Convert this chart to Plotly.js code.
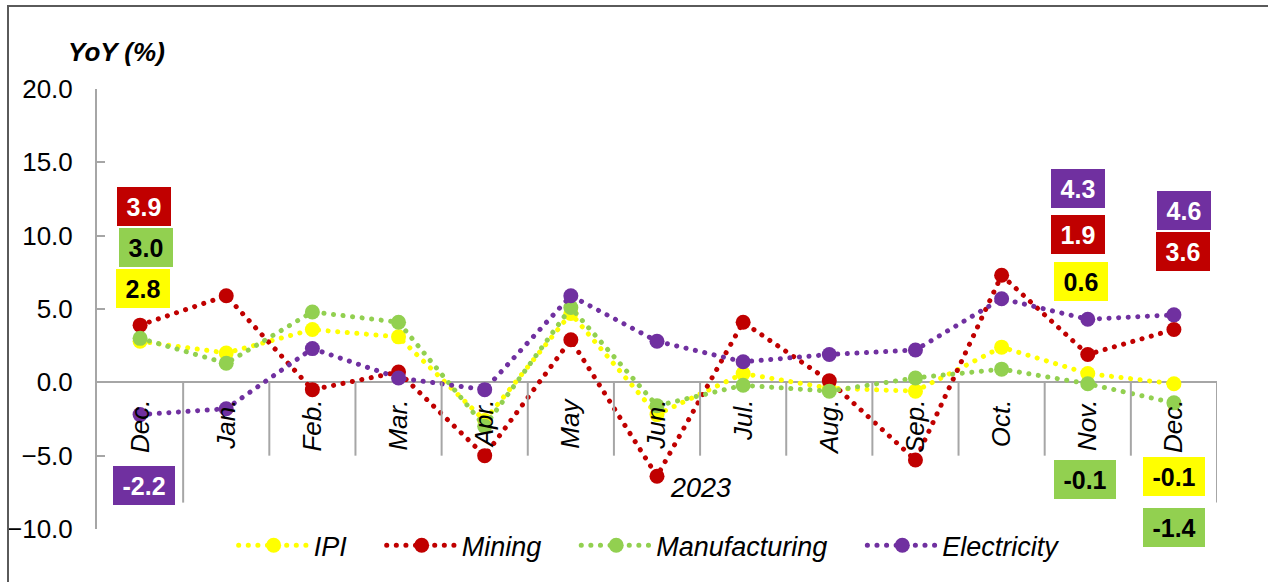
<!DOCTYPE html>
<html>
<head>
<meta charset="utf-8">
<script src="https://cdn.plot.ly/plotly-3.0.1.min.js"></script>
<style>
  html, body { margin: 0; padding: 0; background: #fff; }
  #chart { position: absolute; left: 0; top: 0; width: 1268px; height: 582px; }
  #frame { position: absolute; left: 7px; top: 5px; width: 1400px; height: 700px;
           border-left: 2px solid #5a5a5a; border-top: 2px solid #5a5a5a; pointer-events: none; z-index: 10; }
  path.js-line, g.legendlines path { stroke-linecap: round !important; }
</style>
</head>
<body>
<div id="chart"></div>
<div id="frame"></div>
<script>
// ---- data ----
const monthLabels = ['Dec.', 'Jan.', 'Feb.', 'Mar.', 'Apr.', 'May', 'Jun.', 'Jul.', 'Aug.', 'Sep.', 'Oct.', 'Nov.', 'Dec.'];
const yearLabel = '2023';
const seriesNames = ['IPI', 'Mining', 'Manufacturing', 'Electricity'];
const ipi           = [2.8, 2.0, 3.6, 3.1, -2.6, 4.7, -2.2, 0.6, -0.4, -0.6, 2.4, 0.6, -0.1];
const mining        = [3.9, 5.9, -0.5, 0.7, -5.0, 2.9, -6.4, 4.1, 0.1, -5.3, 7.3, 1.9, 3.6];
const manufacturing = [3.0, 1.3, 4.8, 4.1, -3.0, 5.1, -1.6, -0.2, -0.6, 0.3, 0.9, -0.1, -1.4];
const electricity   = [-2.2, -1.8, 2.3, 0.3, -0.5, 5.9, 2.8, 1.4, 1.9, 2.2, 5.7, 4.3, 4.6];
const yTickVals = [-10, -5, 0, 5, 10, 15, 20];

// ---- styles ----
const colors = ['#FFFF00', '#C00000', '#92D050', '#7030A0'];
const labelFontColors = ['#000000', '#FFFFFF', '#000000', '#FFFFFF'];
const allSeries = [ipi, mining, manufacturing, electricity];
const xIdx = monthLabels.map((_, i) => i);
const FONT = 'Arial, "Liberation Sans", sans-serif';

const traces = allSeries.map((vals, k) => ({
  type: 'scatter', mode: 'lines+markers',
  x: xIdx, y: vals,
  name: seriesNames[k] + '\u00a0\u00a0\u00a0\u00a0',
  line: { color: colors[k], width: 5, dash: '0.1px,9.5px' },
  marker: { color: colors[k], size: 15 },
  hoverinfo: 'skip'
}));

// value label boxes: [series index, point index, y position (data units), xshift]
const labelPlacement = [
  [1, 0, 12.0, 4], [2, 0, 9.2, 6], [0, 0, 6.4, 3], [3, 0, -7.0, 4],
  [3, 11, 13.2, -10], [1, 11, 10.1, -10], [0, 11, 6.9, -7], [2, 11, -6.6, -3],
  [3, 12, 11.7, 10], [1, 12, 8.9, 9], [0, 12, -6.4, 0], [2, 12, -9.9, 0]
];
const annotations = labelPlacement.map(([s, i, yy, dx]) => {
  const v = allSeries[s][i];
  return {
    xref: 'x', yref: 'y', x: xIdx[i], y: yy, xshift: dx, showarrow: false,
    text: '<b>' + v.toFixed(1) + '</b>',
    font: { family: FONT, size: 25, color: labelFontColors[s] },
    bgcolor: colors[s], width: v < 0 ? 62 : 54, height: 39, borderpad: 0, borderwidth: 0,
    align: 'center', valign: 'middle'
  };
});
annotations.push({
  xref: 'paper', yref: 'paper', x: 0.017, y: 1.083, xanchor: 'center', yanchor: 'middle', showarrow: false,
  text: '<b><i>YoY (%)</i></b>', font: { family: FONT, size: 26, color: '#000' }
});
annotations.push({
  xref: 'x', yref: 'y', x: (xIdx[1] + xIdx[12]) / 2, y: -7.2, showarrow: false,
  text: '<i>' + yearLabel + '</i>', font: { family: FONT, size: 27, color: '#000' }
});

// category separators
const sepColor = '#A6A6A6';
const shapes = [];
for (let i = 1; i <= monthLabels.length; i++) {
  const longOne = (i === 1 || i === monthLabels.length);
  shapes.push({ type: 'line', xref: 'x', yref: 'y', x0: i - 0.5, x1: i - 0.5, y0: 0, y1: longOne ? -8.2 : -5,
    line: { color: sepColor, width: 2 } });
}

const layout = {
  width: 1268, height: 582,
  margin: { l: 97, r: 51, t: 89, b: 50 },
  paper_bgcolor: '#fff', plot_bgcolor: 'rgba(0,0,0,0)',
  showlegend: true,
  font: { family: FONT, color: '#000' },
  xaxis: {
    range: [-0.5, 12.5], tickvals: xIdx, ticktext: monthLabels,
    tickangle: -90, showgrid: false, zeroline: false, showline: false, ticks: '',
    anchor: 'free', position: 1 / 3, ticklabelstandoff: 11,
    tickfont: { family: FONT, size: 26, style: 'italic', color: '#000' }
  },
  yaxis: {
    range: [-10, 20], tickvals: yTickVals, tickformat: '.1f',
    showgrid: false, showline: true, linecolor: sepColor, linewidth: 2,
    ticks: 'inside', ticklen: 8, tickcolor: sepColor, tickwidth: 2,
    zeroline: true, zerolinecolor: sepColor, zerolinewidth: 2,
    ticklabelstandoff: 17,
    tickfont: { family: FONT, size: 26, color: '#000' }
  },
  legend: {
    orientation: 'h', x: 0.122, xanchor: 'left', y: -0.038, yanchor: 'middle',
    itemwidth: 70, bgcolor: 'rgba(0,0,0,0)',
    font: { family: FONT, size: 27, style: 'italic', color: '#000' }
  },
  annotations: annotations,
  shapes: shapes
};

Plotly.newPlot('chart', traces, layout, { displayModeBar: false, staticPlot: true });
</script>
</body>
</html>
